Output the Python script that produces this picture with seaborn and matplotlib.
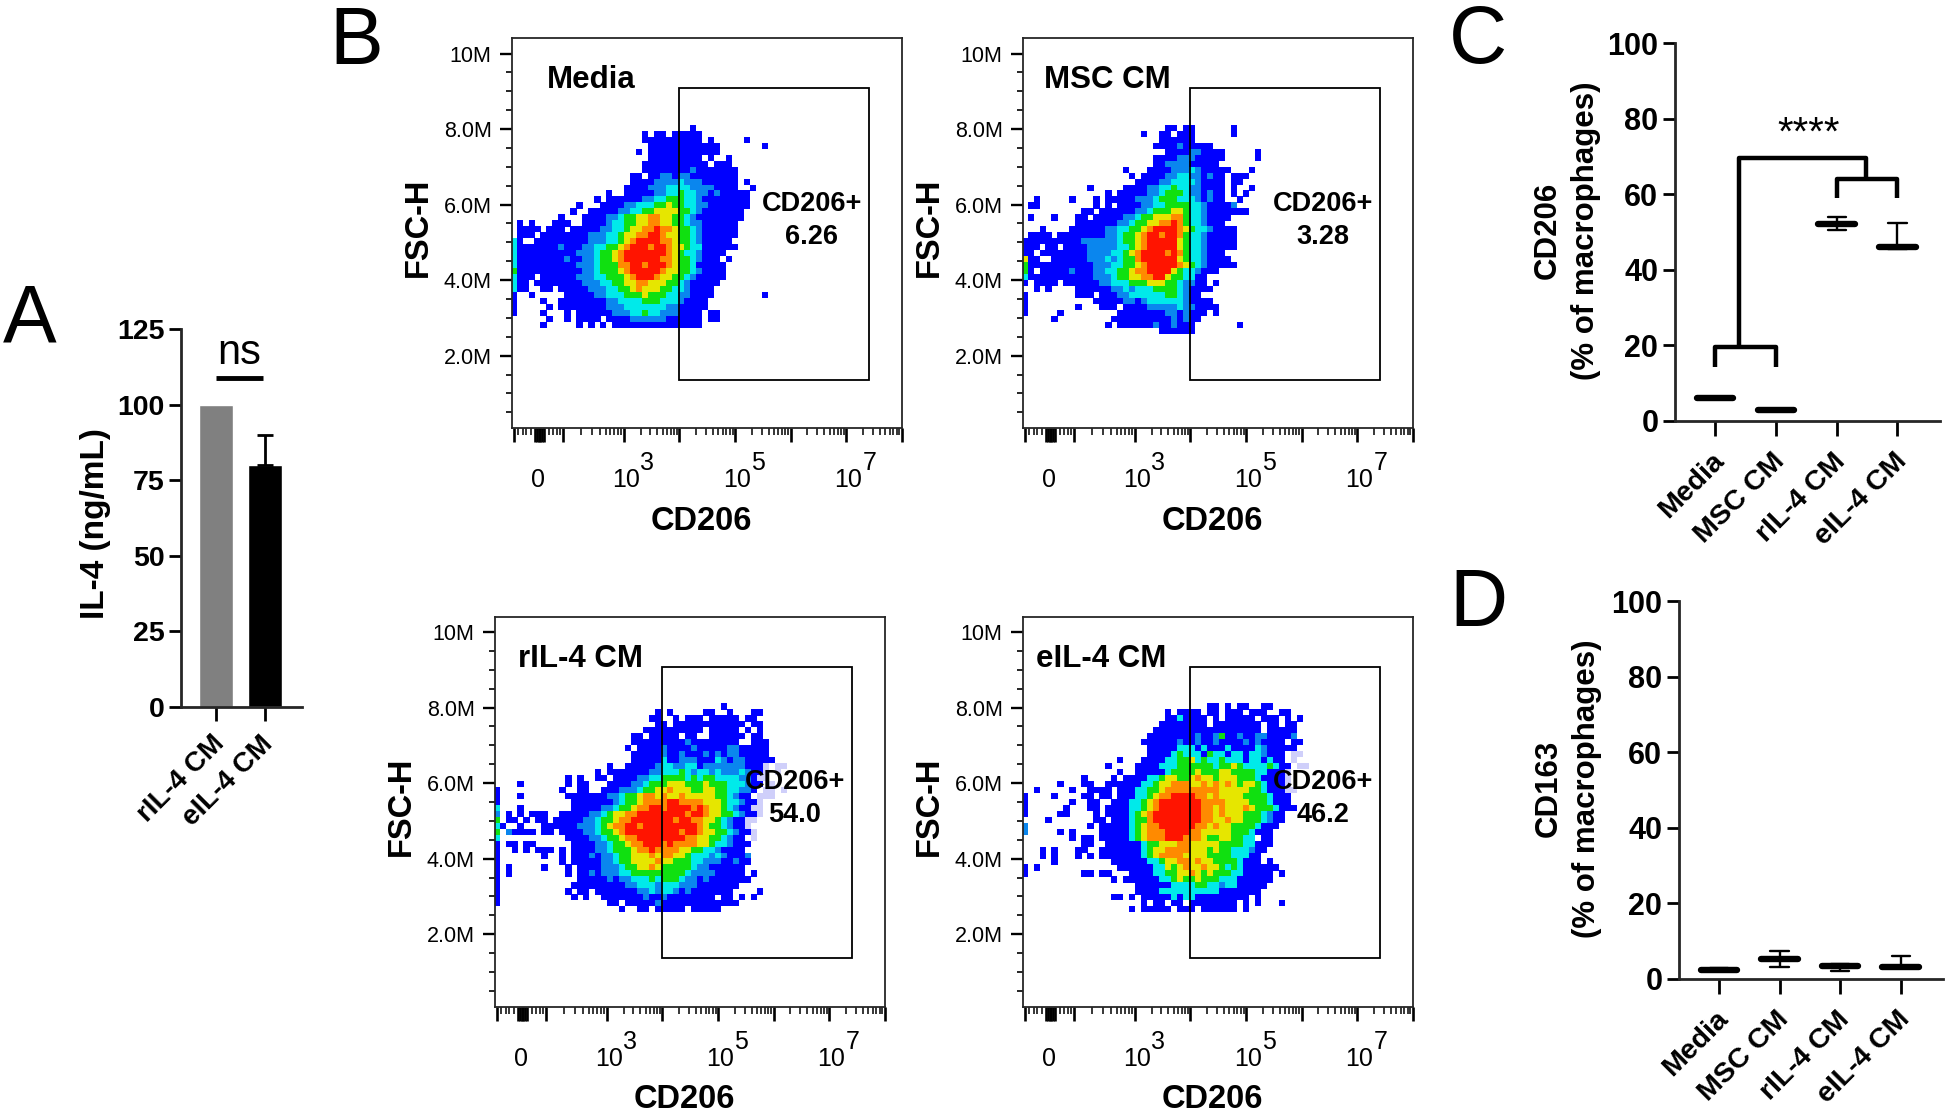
import numpy as np
import pandas as pd
import matplotlib
matplotlib.use('Agg')
import matplotlib.pyplot as plt
from matplotlib.patches import Rectangle
from matplotlib.transforms import ScaledTranslation
import seaborn as sns

W, H = 1946, 1116

# panel A
il4_groups = ['rIL-4 CM', 'eIL-4 CM']
il4_values = [100, 80]
il4_err_up = 10
il4_ticks = [0, 25, 50, 75, 100, 125]

# panels C and D, group / low / median / high
groups = ['Media', 'MSC CM', 'rIL-4 CM', 'eIL-4 CM']
cd206_low = [6.0, 2.6, 50.5, 45.5]
cd206_med = [6.2, 2.8, 52.2, 46.0]
cd206_high = [6.4, 3.0, 54.0, 52.5]
cd163_low = [2.2, 3.2, 2.2, 3.0]
cd163_med = [2.5, 5.2, 3.5, 3.3]
cd163_high = [2.9, 7.5, 4.0, 6.0]
pct_ticks = [0, 20, 40, 60, 80, 100]

# flow plots, density
# . empty, b blue, c azure, t cyan, g green, y yellow, o orange, r red, l pale
media_rows = [
    "..............................b",
    "......................b.bb.bbbbb",
    "......................bbbbbbbbbb.b.....b",
    ".......................bbbbbbbbbbbb.......b",
    ".....................b.bbbbbbbbbbbb",
    ".......................bbbbbbbbb.b..b",
    "......................bbbbbbbbbbb.bbb",
    "......................bbbbbbbbcbbbbbbb",
    "....................bb.bbccbccbbbbbbbb",
    "....................bbbbcccctcccbbbbbb.b",
    "...................bbbbcccttttccccbbbb..b",
    "................b..bbbbbccttgttccbcbbbbb",
    "..............b.bbbbbbccttgggttcbbbbbbbb",
    "...........b...bbbbcctttggyggttccbbbbbbb",
    "..........b..bbbbbccttggyyyyggtcbbbbbbb",
    "........b...bbbbcctggyyooyyggtcbbbbbbbb",
    ".b.b...bbb..bbbbcttggyyooyyggtccbbbbbb",
    ".bbbb.bbb.bbbbbccttgyyoorooyggtcbbbbbb",
    ".bbb.bbbbbbbbcccttgyyoorroyyggtcbbbbbb",
    "tb..bbbbbbbbbcccttgyorrrrooyggtcbbbbb",
    "tbbbbbbbcbbbccttggyorrrorroyygttbbbbbb",
    "tbbbbbbbbbbccctggyorrrrrrroygttcbbbb",
    "tbbbbbbbbcbbcctggyorrrrrrooyggtcbbb.b",
    "tbbbbbbbbbbccctgggoorrorrroyggtbbbbb",
    "gbbbbbbbbbbbcctgggyorrrrroyyggtcbbbb",
    "tbbb.bbbbbbcccttgggyorrroyyggtcbbbbb",
    "tbb.bbbbbbbbcccttggyyooyyyggtcbbbbb",
    "tbb..bb.bbbbbcccttggyoyyyggttcbbbb",
    "b..b.....bbbbbcctttgggygggttccbbbb........b",
    "b....b..bbbbbbbbccttttgggtttcbbbb",
    "b.....b.bbbbbbbbccctttttttccbbbbb",
    "b....b...b.bbbbbbcccttgttcccbbbb.bb",
    "......b..b.bbbb.bbbbccccccbbbbbb.bb",
    ".....b.....b.b.b.bbbbbbbbbbbbbbb",
]
msc_rows = [
    "........................bb.bb......b",
    "....................b..bb.bbb......b",
    ".......................bbbbbb",
    "......................bbbbcbbbbb",
    "........................bbbbccbbbb.....b",
    "......................bbbbcccbbbbb.....b",
    "......................bbccccbbbbb",
    ".................b...bbbbccctcbbbbb...b",
    "..................b.bbbbccttccbcbb.bbb",
    "...................bbbbccttttcbbbb.bb",
    "...........b.....bbbbccttgttccbbbb.b..b",
    "..............b.bbbbbcctgggtccbcbb.b.b",
    "..b.....b...b.bbbbbccctgggtttcbcbb..b",
    ".bb.........b.b.bbbbccttggggttcbbbbc",
    "..........bb.bbbbbbcctgggyygttcbbbbbbb",
    ".b...b...bb.bbbbbcctggyyyoogttcbbbb",
    ".........bbbbbbbcctggyyoorogttcbbb",
    "...b....bbbbbbccttggyorrrroygttcbbbb",
    ".bbbb.bbbbbbbbcctggyorrorrogttcbbbbb",
    "bbbbbbbbbbcccccctggyorrrrrygttcbbbbb",
    "bbb.bb.bbbbcccccttgyorrrrrygttcbbbbb",
    "bb.bbbbbbbbccccttgyorrrrorogttcbbb",
    "ybb..bbbbbbccctctggorrrrrrygttcbbbb",
    "gbbbbbbbbbbbcccttggyorrrrroygtcbbbbb",
    "gb.bbbbbcbbbccttggyoorrrrygttcbbb",
    "tbbbbbbbbbbbccctggyyoorryggttbb",
    "b.bbbb.bbbbbbcctttgggyyyggtccbb.b",
    "..b.b....bbbbbbcctctttggggtcbbbb",
    "b........bbb.bbbccttttttggtcbb",
    "b...........bbbbbccbcttttttcbbbb",
    "b........b...bbb.bbbbccccctccbbbb",
    "b.....b.........bbbbbbbbccbcbbb.b",
    ".....b.........bbbbbbbbbbcbcbb",
    "..............b.bbbbbbcbbcbbb.......b",
    ".......................bbbbbb",
]
ril_rows = [
    "......................................b",
    "...........................b.b.....bb..b...bb",
    "..........................bb..b.bbb.bbbbb.bb",
    "...........................bb.bbbbbbbbbbbb.bb",
    ".........................bbbbbbbbbb.bbbbb.b.b",
    ".......................bb.bbbbb.bb..bbbbbb.bb",
    ".......................bbbbbbbbbcbbbbbbbb..bbb",
    "......................b.bbbbcbbbbcbbbbbccbbbbb",
    ".......................bbbbbcbbcbbbcbcbccbbbbb",
    ".......................bbbbbtbbcccbbbtcbccbbbbb",
    "...................b..bbbbbcttccttbcccccccbbbl.ll",
    ".................b.bbbbbbbcctttgtcttctccctcbbl.l",
    "............b.b..bb.bbbbccttggggtgtggttttccbll",
    "....b.......b.bb...bbbbcctgggyyygggygggtttcbb.l",
    "b..........b..bb..bbbccctggyyoyyyggyyggttccb.ll.l",
    "b...b.......bbbbbbbcctggyooyoyyoyyyyyggtcbb.lll",
    "b............bbbbbbbctggyoooorrooooyyygttcbbl",
    "t...b........bbbbbcctggyoorrorrrroroyygtcbbll",
    "c.b.b.bbb..bbbbbcctgyyoorrrrrrrrorroyyggtcbbl",
    "g.bb.b.bb.bbbbbcctggyoorrrrrrrorrooyygtcbbll",
    "tb..b...bbbbbbccctgyoorrorrrrrrrrroyggtcbbl",
    "g.cbbbb.bb.bbbbcctggyorrrrrrrrrorroyyggtcbbl",
    "t...........bbbbcctggyoorrrrrrrrooyyggtcbb.l",
    "b.bb.bb......bbbbcctggyoorrrorooooyygttcbbb",
    "b..b.b.bbb.b.bbbbcctgggyoorooooyyggttcbbbb",
    "b.......b..b.bbbcbcctggyyyoyooyygtttctcbbbc",
    "b..........b.bbbbbcctggyyyyoyygggttcccbbcbb",
    "b.b.....b...b.bbbbccctggyyoygggggtccbbbbbb",
    "b.b.........b.bbcbcccttgggggggggtccccbbbbb.b",
    "b.............bbbbbcbcctttgtgggtccbcbbbbbbb",
    "b............bbbbbbbbbcctttctttcccbbbbbbb",
    "b...........b.bb.bbbbbbbcctcttcbcbbbbbbb....b",
    "b............b.b..bbbbbbbcbbcbbbbbbbb.bb.b.b",
    "b..................bb.bbbbbcbbbbbbbbbbbbb",
    ".....................b..bb.bbbbb.bbbbb",
]
eil_rows = [
    "...............................bb.b.bb..bb",
    "........................b.bbbb.bb.bbb.bbb..bb",
    "........................bbtbbbb.b.bbbbb.bbb.b.b",
    ".......................bbbbbbbb.bbbbbbbb.bb.bb",
    "......................bbbbbbbbbbbbbbbbbb.bbbbb",
    ".....................bbbbbbbbcbbcgbbcbbccbbbbc",
    "....................bbbbbbcbbcbbcbbbbcbcbbbb.bb",
    ".....................bbbbbtttbtbbbtbbbbtcbbbbb",
    ".....................bbbbtgtttbgttbttbttcbbb.ll",
    "................b...bbbbttggytgttgtttbttbtbb.l",
    "..............b....bbbbtttggggggtggygttttgtbb.ll",
    "................b..bbbbbtggggygggyyggggttbbbl",
    "..........b....b.bbbbttgyyggyoyygyyygggtbbbbl",
    "......b...bb..bbbbbbttgyyoooyyoyoyoygyygtbbbl",
    "..b.....b..bbbb.bbbttggyoooooooooyyyyyggtbbbll",
    "b....b....bb.bb.bbbttgyoorrrrooyoyyyyggggtbbb",
    "b.......b..bb..bbbttgyorrrrrrrooooyyyygggtbbb",
    "b......b...bb.bbbbttgyorrrrrrrooyoyyyoygggtbbb",
    "b.....bb....b.bbbbtgyorrrrrrrrooyoyyygggtcbb",
    "....b.......bb.bbbtggorrrrrrrrooyyoyygggtcbb",
    "c..........b.bbbbbtgyoorrrrrrooyoyyggggtbbb",
    "c.....b.b....bbbbbtgyooorrrrooyyyyygggtbbb",
    "........b.bb.bbbbbtgyooorrroooyggyyggtt.bb",
    "..........bb..bbbbbbtggyyyooyyyyyggggttbbb",
    "...b.b...bb..bbbbbbbtgyyooooyyygyggtttcbb",
    "...b.b...b.b.bbbbbbbtgyooooyyyyggggtttbb",
    ".....b.........bbbbbbttgyyooyoyyggggtbbb.b",
    "b.b.............bbbbbbttygyoyyoyygtgtbbbbbb",
    "b.........bb.bb...bbbbttggyyoygygggttbbbbb.b",
    "...............b.bbbbbbttgyggygggtttbbbbbb",
    "...................bbbbbbttttggttcttbbbbb",
    "...................bbbbttttttttttbbbbbbb",
    "...............bb.b.bbbbbtbttbbbbbbbbb.b",
    "....................b.bb.bb.bbbbbbbb.b.b...b",
    "..................b.bbbbb.bbb.bbbbbb.b",
]
level_colors = {'b': '#0000ff', 'c': '#0a86ee', 't': '#00eaea', 'g': '#10e010',
                'y': '#e6e600', 'o': '#ff8a00', 'r': '#ff1400', 'l': '#cfcffa'}

gate_x = [4.0, 7.4]
gate_y = [1.36, 9.08]
fsc_major = [2, 4, 6, 8, 10]
fsc_labels = ['2.0M', '4.0M', '6.0M', '8.0M', '10M']
fsc_minor = [0.5, 1, 1.5, 2.5, 3, 3.5, 4.5, 5, 5.5, 6.5, 7, 7.5, 8.5, 9, 9.5]
cd206_major = [1.03, 1.41, 1.44, 1.47, 1.5, 1.53, 1.56, 1.91, 3, 4, 5, 6, 7, 8]
cd206_left_minor = [1.106, 1.195, 1.244, 1.33, 1.66, 1.73, 1.80, 1.85]

sns.set_theme(style='ticks')
plt.rcParams['font.family'] = ['Liberation Sans', 'DejaVu Sans']
plt.rcParams['axes.linewidth'] = 2.0
plt.rcParams['xtick.color'] = 'black'
plt.rcParams['ytick.color'] = 'black'
plt.rcParams['text.color'] = 'black'
plt.rcParams['axes.labelcolor'] = 'black'

fig = plt.figure(figsize=(W / 100, H / 100), dpi=100)


def axes_px(left, top, right, bottom):
    return fig.add_axes([left / W, 1 - bottom / H, (right - left) / W, (bottom - top) / H])


def cells_from(rows):
    cells = []
    for j, row in enumerate(rows):
        for i, ch in enumerate(row):
            if ch != '.':
                cells.append((1.02 + i * 0.1075, 8.03 - j * 0.158, ch))
    return pd.DataFrame(cells, columns=['cd206', 'fsc', 'level'])


def nudge_xlabels(ax, dx_px):
    # rotated group names sit a bit left of the tick in the original
    for lab in ax.get_xticklabels():
        lab.set_transform(lab.get_transform() + ScaledTranslation(dx_px / 100, 0, fig.dpi_scale_trans))


def flow_panel(left, top, rows, title, title_x, pct, label_y):
    ax = axes_px(left, top, left + 390, top + 390)
    sns.scatterplot(data=cells_from(rows), x='cd206', y='fsc', hue='level', palette=level_colors,
                    marker='s', s=20, linewidth=0, legend=False, ax=ax)
    ax.set_xlim(0.99, 8.0)
    ax.set_ylim(0.07, 10.4)
    ax.add_patch(Rectangle((gate_x[0], gate_y[0]), gate_x[1] - gate_x[0], gate_y[1] - gate_y[0],
                           fill=False, edgecolor='black', linewidth=1.3, zorder=5))
    for side in ax.spines.values():
        side.set_linewidth(1.3)
    ax.set_yticks(fsc_major, fsc_labels)
    ax.set_yticks(fsc_minor, minor=True)
    log_minor = [d + np.log10(m) for d in range(3, 8) for m in range(2, 10)]
    log_minor += [1.91 + 1.09 * np.log10(m) for m in range(2, 10)]
    ax.set_xticks(cd206_major, [''] * len(cd206_major))
    ax.set_xticks(cd206_left_minor + log_minor, minor=True)
    ax.tick_params(axis='y', which='major', length=8.6, width=1.7, pad=6, labelsize=15.5)
    ax.tick_params(axis='y', which='minor', length=4.3, width=1.2)
    ax.tick_params(axis='x', which='major', length=10, width=1.9)
    ax.tick_params(axis='x', which='minor', length=5, width=1.1)
    # biexponential axis labels, exponents are as big as the base in the original
    for x, txt, dx in [(1.46, '0', 0), (3, '10', 2), (5, '10', 2), (7, '10', 2)]:
        ax.annotate(txt, xy=(x, 0), xycoords=('data', 'axes fraction'), xytext=(dx, -52),
                    textcoords='offset pixels', ha='center', va='center', fontsize=18)
    for x, txt in [(3, '3'), (5, '5'), (7, '7')]:
        ax.annotate(txt, xy=(x, 0), xycoords=('data', 'axes fraction'), xytext=(23, -35),
                    textcoords='offset pixels', ha='center', va='center', fontsize=18)
    ax.set_xlabel('CD206', fontsize=23.5, fontweight='bold')
    ax.set_ylabel('FSC-H', fontsize=23.5, fontweight='bold')
    ax.xaxis.set_label_coords(0.486, label_y)
    ax.yaxis.set_label_coords(-0.2, 0.515)
    ax.text(title_x, 9.3, title, fontsize=22.5, fontweight='bold', ha='left', va='center', zorder=6)
    ax.text(6.38, 6.02, 'CD206+', fontsize=19.5, fontweight='bold', ha='center', va='center', zorder=6)
    ax.text(6.38, 5.15, pct, fontsize=19.5, fontweight='bold', ha='center', va='center', zorder=6)
    return ax


def box_panel(left, top, right, bottom, low, med, high, ylabel, label_x):
    # median repeated so that the box collapses on it, like the Prism original
    long_df = pd.DataFrame({
        'group': np.repeat(groups, 6),
        'value': np.column_stack([low, med, med, med, med, high]).ravel(),
    })
    ax = axes_px(left, top, right, bottom)
    sns.boxplot(data=long_df, x='group', y='value', order=groups, whis=(0, 100), width=0.6, fill=False,
                color='black', linewidth=1.7, fliersize=0, ax=ax,
                medianprops={'linewidth': 4.6, 'solid_capstyle': 'round'})
    ax.set_xlim(-0.66, 3.7)
    ax.set_ylim(0, 100)
    ax.set_yticks(pct_ticks)
    ax.set_xlabel('')
    ax.set_ylabel(ylabel, fontsize=22.5, fontweight='bold', linespacing=1.35)
    ax.yaxis.set_label_coords(label_x, 0.503)
    ax.tick_params(axis='y', length=9, width=2.0, pad=3, labelsize=22)
    ax.tick_params(axis='x', length=11, width=2.0, pad=8.5)
    for lab in ax.get_yticklabels():
        lab.set_fontweight('bold')
    ax.set_xticks(range(4), groups, rotation=45, ha='right', va='top', rotation_mode='anchor',
                  fontsize=20.5, fontweight='bold')
    nudge_xlabels(ax, -4)
    sns.despine(ax=ax)
    for art in ax.lines:
        art.set_clip_on(False)
    return ax


# A
ax_a = axes_px(181, 329, 302, 707)
sns.barplot(x=il4_groups, y=il4_values, hue=il4_groups, palette=['#808080', '#000000'], saturation=1,
            width=0.7, errorbar=None, legend=False, ax=ax_a)
ax_a.errorbar([1], il4_values[1:], yerr=[[0], [il4_err_up]], fmt='none', ecolor='black',
              elinewidth=2.0, capsize=6, capthick=2.0)
ax_a.set_xlim(-0.72, 1.76)
ax_a.set_ylim(0, 125)
ax_a.set_yticks(il4_ticks)
ax_a.set_ylabel('IL-4 (ng/mL)', fontsize=24, fontweight='bold')
ax_a.yaxis.set_label_coords(-0.58, 0.484)
ax_a.tick_params(axis='y', length=9, width=2.0, pad=3, labelsize=20.5)
ax_a.tick_params(axis='x', length=10, width=2.0, pad=7)
for lab in ax_a.get_yticklabels():
    lab.set_fontweight('bold')
ax_a.set_xticks(range(2), il4_groups, rotation=45, ha='right', va='top', rotation_mode='anchor',
                fontsize=20, fontweight='bold')
nudge_xlabels(ax_a, -5)
sns.despine(ax=ax_a)
ax_a.plot([0, 0.97], [108.8, 108.8], color='black', linewidth=3.5, clip_on=False, solid_capstyle='butt')
ax_a.text(0.47, 110.5, 'ns', fontsize=30, ha='center', va='bottom')

# B
flow_panel(512, 38.5, media_rows, 'Media', 1.61, '6.26', -0.2)
flow_panel(1023, 38.5, msc_rows, 'MSC CM', 1.36, '3.28', -0.2)
flow_panel(495, 617, ril_rows, 'rIL-4 CM', 1.40, '54.0', -0.198)
flow_panel(1023, 617, eil_rows, 'eIL-4 CM', 1.23, '46.2', -0.198)

# C
ax_c = box_panel(1675, 43, 1940, 421, cd206_low, cd206_med, cd206_high,
                 'CD206\n(% of macrophages)', -0.28)
for xs, ys in [([0, 0, 1, 1], [14.4, 19.5, 19.5, 14.4]),
               ([2, 2, 3, 3], [58.9, 63.9, 63.9, 58.9]),
               ([0.4, 0.4, 2.48, 2.48], [19.5, 69.7, 69.7, 63.9])]:
    ax_c.plot(xs, ys, color='black', linewidth=3.2, solid_joinstyle='round', solid_capstyle='butt')
ax_c.text(1.54, 76, '****', fontsize=29, ha='center', va='center')

# D
box_panel(1679, 601, 1943, 979, cd163_low, cd163_med, cd163_high,
          'CD163\n(% of macrophages)', -0.292)

# panel letters
for letter, px, py in [('A', 30, 321), ('B', 356, 43), ('C', 1478, 42), ('D', 1478, 605)]:
    fig.text(px / W, 1 - py / H, letter, fontsize=58, ha='center', va='center', color='black')

fig.savefig('out.png', dpi=100)
